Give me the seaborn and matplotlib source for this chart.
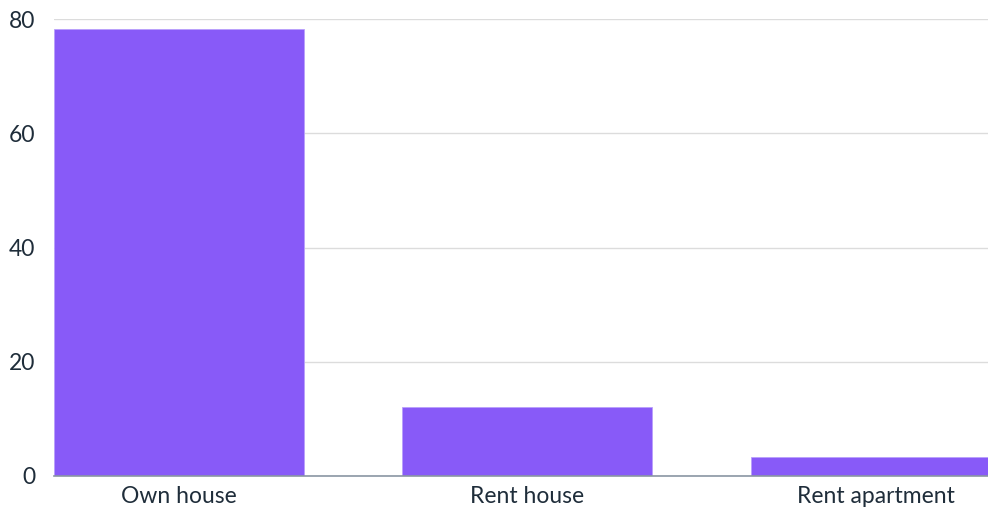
import matplotlib
matplotlib.use("Agg")
import matplotlib.pyplot as plt
import seaborn as sns
import pandas as pd

categories = ["Own house", "Rent house", "Rent apartment"]
values = [78.3, 12.0, 3.3]
y_ticks = [0, 20, 40, 60, 80]

sns.set_theme(style="white")
plt.rcParams['font.family'] = ['Lato', 'DejaVu Sans']

df = pd.DataFrame({"category": categories, "value": values})

fig = plt.figure(figsize=(9.88, 5.13), dpi=100)
ax = fig.add_axes([53.5 / 988, 1 - 476 / 513, 1 - 53.5 / 988, (476 - 19) / 513])

w = 250 / 348.5
sns.barplot(data=df, x="category", y="value", color="#885AF8", saturation=1,
            width=w, ax=ax, edgecolor="#B9A0FB", linewidth=0.6, zorder=3)

ax.set_xlim(-w / 2, -w / 2 + 934.5 / 348.5)
ax.set_ylim(0, 80)
ax.set_yticks(y_ticks)
ax.set_yticklabels([str(t) for t in y_ticks])
ax.yaxis.grid(True, color="#DCDCDC", linewidth=1, zorder=0)
ax.set_axisbelow(True)
for s in ["top", "right", "left"]:
    ax.spines[s].set_visible(False)
ax.spines["bottom"].set_color("#8A96A3")
ax.spines["bottom"].set_linewidth(1.2)
ax.spines["bottom"].set_zorder(5)
ax.tick_params(axis="y", length=0, pad=13, labelsize=16.5, labelcolor="#1F2D3A")
ax.tick_params(axis="x", length=0, pad=7, labelsize=16.5, labelcolor="#1F2D3A")
ax.set_xlabel("")
ax.set_ylabel("")

fig.savefig("out.png", dpi=100)
